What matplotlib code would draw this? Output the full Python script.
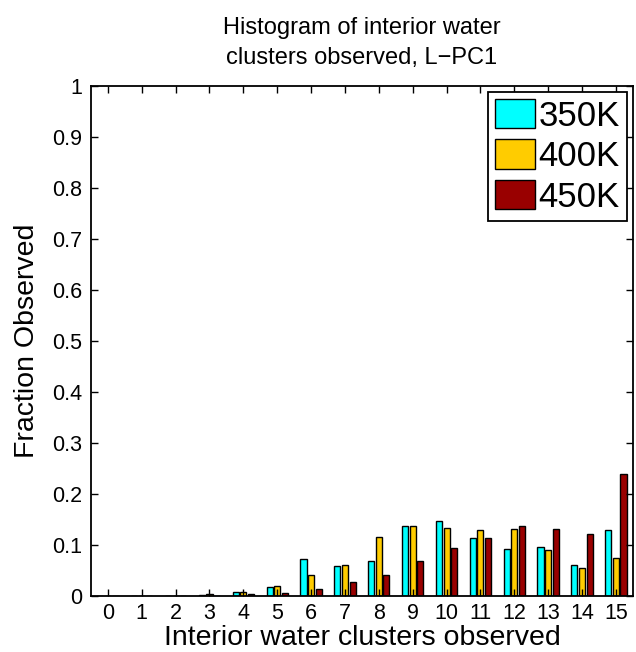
import numpy as np
import matplotlib.pyplot as plt

plt.rcParams['font.family'] = ['Liberation Sans', 'DejaVu Sans']

clusters = np.arange(16)
frac_350 = [0, 0, 0, 0.001, 0.0085, 0.018, 0.0725, 0.059, 0.069, 0.137,
            0.146, 0.113, 0.0915, 0.095, 0.061, 0.129]
frac_400 = [0, 0, 0, 0.003, 0.008, 0.019, 0.041, 0.061, 0.115, 0.137,
            0.134, 0.129, 0.131, 0.091, 0.054, 0.075]
frac_450 = [0, 0, 0, 0, 0.004, 0.006, 0.014, 0.027, 0.042, 0.068,
            0.094, 0.114, 0.137, 0.131, 0.122, 0.239]
series = [('350K', frac_350, '#00ffff'),
          ('400K', frac_400, '#ffcc00'),
          ('450K', frac_450, '#990000')]
yticks = np.round(np.arange(0, 1.01, 0.1), 1)
ytick_labels = ['0'] + [f'{v:g}' for v in yticks[1:-1]] + ['1']

fig = plt.figure(figsize=(6.36, 6.52), dpi=100)
ax = fig.add_axes([0.143, 0.086, 0.852, 0.782])

w = 0.18
for i, (name, vals, col) in enumerate(series):
    ax.bar(clusters + (i - 1) * 0.225, vals, width=w, color=col,
           edgecolor='black', linewidth=1.0, label=name)

ax.set_xlim(-0.5, 15.5)
ax.set_ylim(0, 1)
ax.set_xticks(clusters)
ax.set_yticks(yticks)
ax.set_yticklabels(ytick_labels)
ax.tick_params(direction='in', length=5, width=1, labelsize=15.5,
               top=True, right=True)
ax.tick_params(axis='x', pad=5)
ax.tick_params(axis='y', pad=6)
for s in ax.spines.values():
    s.set_linewidth(1.3)

ax.set_title('Histogram of interior water\nclusters observed, L\u2212PC1',
             fontsize=17, pad=16, linespacing=1.45)
ax.set_xlabel('Interior water clusters observed', fontsize=20.5, labelpad=1)
ax.set_ylabel('Fraction Observed', fontsize=20.5, labelpad=9)

leg = ax.legend(loc='upper right', fontsize=25, handlelength=1.15,
                handleheight=0.92, handletextpad=0.12, borderpad=0.2,
                labelspacing=0.2, borderaxespad=0.17, fancybox=False,
                framealpha=1)
leg.get_frame().set_edgecolor('black')
leg.get_frame().set_linewidth(1.3)

fig.savefig('out.png', dpi=100)
